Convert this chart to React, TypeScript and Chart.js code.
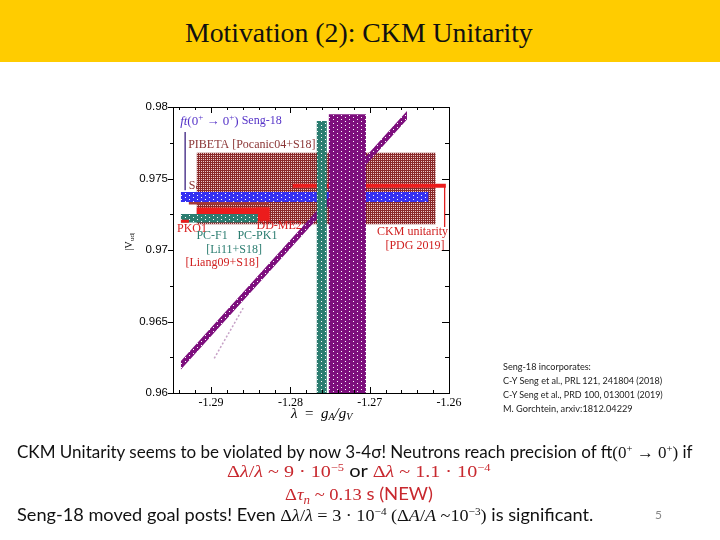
import React, { useEffect, useLayoutEffect, useRef } from "react";
import { Chart, registerables } from "chart.js";
Chart.register(...registerables);

// ---------- axes ----------
const xTickValues = [-1.29, -1.28, -1.27, -1.26];
const yTickValues = [0.96, 0.965, 0.97, 0.975, 0.98];
const lambdaMin = -1.2948;
const lambdaMax = -1.26;
const vudMin = 0.96;
const vudMax = 0.98;

// ---------- horizontal |Vud| bands (bottom to top) ----------
const hBandNames = ["PIBETA [Pocanic04+S18]", "Saito03+S18", "ft(0+→0+) Seng-18", "CKM unitarity [PDG 2019]", "DD-ME2 [Liang09+S18]", "DD-ME2 end", "PC-F1 / PC-PK1 [Li11+S18]", "PKO1 [Liang09+S18]"];
const hBandLambdaFrom = [-1.2918, -1.2928, -1.2938, -1.2797, -1.2918, -1.2843, -1.2938, -1.2938];
const hBandLambdaTo = [-1.2617, -1.2827, -1.2626, -1.2604, -1.2827, -1.2826, -1.2841, -1.2928];
const hBandVudLow = [0.9718, 0.97318, 0.97336, 0.97436, 0.97227, 0.97204, 0.97192, 0.97191];
const hBandVudHigh = [0.9768, 0.97367, 0.97406, 0.97464, 0.97297, 0.97297, 0.97251, 0.97212];

// ---------- vertical lambda bands ----------
const vBandNames = ["lambda A", "lambda B"];
const vBandLambdaFrom = [-1.27667, -1.27515];
const vBandLambdaTo = [-1.27541, -1.27047];
const vBandVudTop = [0.97902, 0.97949];

// ---------- diagonal neutron-lifetime band ----------
const tauLambda = [-1.2938, -1.2653];
const tauVud = [0.96194, 0.97942];
const tauHalfWidth = 0.0003;

// faint dotted trace
const faintLambda = [-1.2896, -1.2859];
const faintVud = [0.96243, 0.96599];

// marker lines
const sengLineLambda = [-1.29327, -1.29327];
const sengLineVud = [0.97825, 0.97417];
const ckmLineLambda = [-1.26055, -1.26055];
const ckmLineVud = [0.9745, 0.9716];

// ---------- in-plot labels ----------
const labelTexts = ["PIBETA [Pocanic04+S18]", "PKO1", "DD-ME2", "PC-F1", "PC-PK1", "[Li11+S18]", "[Liang09+S18]", "CKM unitarity", "[PDG 2019]"];
const labelLambda = [-1.29289, -1.2943, -1.28427, -1.29185, -1.28668, -1.29061, -1.29323, -1.26907, -1.26802];
const labelVud = [0.97732, 0.97145, 0.97171, 0.97098, 0.97098, 0.97003, 0.96909, 0.97126, 0.97026];

const BROWN = "#8a2a2a";
const RED = "#ec1c1c";
const TEAL = "#2b7d70";
const PURPLE = "#7d0f7d";
const BLUE = "#3430f2";
const DARKRED = "#a33838";
const labelColors = ["#8b3535", "#d82020", "#d82020", TEAL, TEAL, TEAL, "#d02020", "#d02020", "#d02020"];

function makePattern(base: string, dot: string, size: number, dots: number[][]) {
  const c = document.createElement("canvas");
  c.width = size;
  c.height = size;
  const g = c.getContext("2d")!;
  g.fillStyle = base;
  g.fillRect(0, 0, size, size);
  g.fillStyle = dot;
  dots.forEach(([x, y]) => g.fillRect(x, y, 1, 1));
  return g.createPattern(c, "repeat")!;
}

const rectPts = (x0: number, x1: number, y0: number, y1: number) => [
  { x: x0, y: y0 }, { x: x1, y: y0 }, { x: x1, y: y1 }, { x: x0, y: y1 }, { x: x0, y: y0 },
];

type Seg = { t: string; font: string; dy?: number };
function drawRich(ctx: CanvasRenderingContext2D, x: number, y: number, segs: Seg[]) {
  let cx = x;
  for (const s of segs) {
    ctx.font = s.font;
    ctx.fillText(s.t, cx, y + (s.dy || 0));
    cx += ctx.measureText(s.t).width;
  }
}

const SERIF = "'Liberation Serif', 'Times New Roman', serif";
const SANS = "'Liberation Sans', Arial, sans-serif";

function ChartCanvas() {
  const ref = useRef<HTMLCanvasElement>(null);
  useEffect(() => {
    const canvas = ref.current!;
    const hatch = makePattern(BROWN, "#ecc9c9", 4, [[1, 1], [3, 3], [1, 3], [3, 1]]);
    const dotFill = (c: string) => makePattern(c, "#ffffff", 8, [[1, 1], [5, 3], [1, 5], [5, 7]]);
    const hFills: any[] = [hatch, DARKRED, dotFill(BLUE), RED, RED, RED, dotFill(TEAL), RED];
    const vFills: any[] = [dotFill(TEAL), dotFill(PURPLE)];

    const datasets: any[] = [];
    const poly = (label: string, data: any[], fill: any) =>
      datasets.push({ label, data, fill: "shape", backgroundColor: fill, borderColor: "transparent", borderWidth: 0, pointRadius: 0 });
    const line = (label: string, data: any[], color: string, width: number, dash: number[] = []) =>
      datasets.push({ label, data, fill: false, borderColor: color, borderWidth: width, borderDash: dash, pointRadius: 0 });

    hBandNames.forEach((n, i) => poly(n, rectPts(hBandLambdaFrom[i], hBandLambdaTo[i], hBandVudLow[i], hBandVudHigh[i]), hFills[i]));
    line("Seng marker", sengLineLambda.map((x, i) => ({ x, y: sengLineVud[i] })), "#3b2080", 1.3);
    line("CKM marker", ckmLineLambda.map((x, i) => ({ x, y: ckmLineVud[i] })), "#e02020", 1.3);
    line("faint", faintLambda.map((x, i) => ({ x, y: faintVud[i] })), "rgba(150,80,150,0.55)", 1.5, [2, 2]);
    poly("neutron lifetime", [
      { x: tauLambda[0], y: tauVud[0] + tauHalfWidth },
      { x: tauLambda[1], y: tauVud[1] + tauHalfWidth },
      { x: tauLambda[1], y: tauVud[1] - tauHalfWidth },
      { x: tauLambda[0], y: tauVud[0] - tauHalfWidth },
      { x: tauLambda[0], y: tauVud[0] + tauHalfWidth },
    ], dotFill(PURPLE));
    vBandNames.forEach((n, i) => poly(n, rectPts(vBandLambdaFrom[i], vBandLambdaTo[i], vudMin, vBandVudTop[i]), vFills[i]));
    const N = datasets.length;
    datasets.forEach((d, i) => (d.order = N - i));

    const underPlugin = {
      id: "under",
      beforeDatasetsDraw(chart: any) {
        const ctx = chart.ctx;
        const xs = chart.scales.x, ys = chart.scales.y;
        ctx.save();
        ctx.fillStyle = "#8b3535";
        ctx.textBaseline = "middle";
        ctx.font = `12px ${SERIF}`;
        ctx.fillText(hBandNames[1], xs.getPixelForValue(-1.2928), ys.getPixelForValue(0.97452));
        ctx.restore();
      },
    };

    const overPlugin = {
      id: "over",
      afterDatasetsDraw(chart: any) {
        const ctx: CanvasRenderingContext2D = chart.ctx;
        const xs = chart.scales.x, ys = chart.scales.y;
        const a = chart.chartArea;
        ctx.save();
        // labels
        ctx.textBaseline = "middle";
        labelTexts.forEach((t, i) => {
          ctx.fillStyle = labelColors[i];
          ctx.font = `12px ${SERIF}`;
          ctx.fillText(t, xs.getPixelForValue(labelLambda[i]), ys.getPixelForValue(labelVud[i]));
        });
        ctx.fillStyle = "#5533c8";
        const fy = ys.getPixelForValue(0.979);
        drawRich(ctx, xs.getPixelForValue(-1.2939), fy, [
          { t: "ft", font: `italic 13px ${SERIF}` },
          { t: "(0", font: `13px ${SERIF}` },
          { t: "+", font: `9px ${SERIF}`, dy: -4 },
          { t: " \u2192 0", font: `13px ${SERIF}` },
          { t: "+", font: `9px ${SERIF}`, dy: -4 },
          { t: ")", font: `13px ${SERIF}` },
          { t: " Seng-18", font: `12px ${SERIF}` },
        ]);
        // frame
        ctx.strokeStyle = "#000";
        ctx.lineWidth = 1;
        ctx.strokeRect(Math.round(a.left) + 0.5, Math.round(a.top) + 0.5, Math.round(a.right - a.left), Math.round(a.bottom - a.top));
        // ticks
        ctx.beginPath();
        for (let k = Math.ceil(lambdaMin / 0.002 - 1e-6); k <= Math.floor(lambdaMax / 0.002 + 1e-6); k++) {
          const v = k * 0.002;
          const major = k % 5 === 0;
          const px = Math.round(xs.getPixelForValue(v)) + 0.5;
          const L = major ? 6 : 3;
          ctx.moveTo(px, a.bottom); ctx.lineTo(px, a.bottom - L);
          ctx.moveTo(px, a.top); ctx.lineTo(px, a.top + L);
        }
        for (let k = Math.round(vudMin / 0.0025); k <= Math.round(vudMax / 0.0025); k++) {
          const v = k * 0.0025;
          const major = k % 2 === 0;
          const py = Math.round(ys.getPixelForValue(v)) + 0.5;
          ctx.moveTo(a.left, py); ctx.lineTo(a.left - (major ? 5 : 3), py);
          ctx.moveTo(a.right, py); ctx.lineTo(a.right - (major ? 7 : 4), py);
        }
        ctx.stroke();
        // axis titles
        ctx.fillStyle = "#000";
        const tx = a.left + 118, ty = a.bottom + 21;
        drawRich(ctx, tx, ty, [
          { t: "\u03bb", font: `italic 15px ${SERIF}` },
          { t: "  =  ", font: `15px ${SERIF}` },
          { t: "g", font: `italic 15px ${SERIF}` },
          { t: "A", font: `italic 10px ${SERIF}`, dy: 3 },
          { t: "/", font: `italic 15px ${SERIF}` },
          { t: "g", font: `italic 15px ${SERIF}` },
          { t: "V", font: `italic 10px ${SERIF}`, dy: 3 },
        ]);
        ctx.save();
        ctx.translate(a.left - 44, ys.getPixelForValue(0.9705));
        ctx.rotate(-Math.PI / 2);
        ctx.textAlign = "center";
        ctx.font = `10px ${SERIF}`;
        ctx.fillText("|V", -3, 0);
        ctx.font = `7px ${SERIF}`;
        ctx.fillText("ud|", 6, 3);
        ctx.restore();
        ctx.restore();
      },
    };

    const chart = new Chart(canvas, {
      type: "line",
      data: { datasets },
      plugins: [underPlugin, overPlugin],
      options: {
        animation: false,
        responsive: false,
        events: [],
        layout: { padding: { left: 0, top: 107, right: 271, bottom: 0 } },
        plugins: { legend: { display: false }, tooltip: { enabled: false } },
        elements: { point: { radius: 0 }, line: { tension: 0 } },
        scales: {
          x: {
            type: "linear",
            min: lambdaMin,
            max: lambdaMax,
            grid: { display: false, drawTicks: false },
            border: { display: false },
            afterFit: (s: any) => { s.height = 147; },
            afterBuildTicks: (s: any) => { s.ticks = xTickValues.map((v) => ({ value: v })); },
            ticks: {
              padding: 3,
              maxRotation: 0,
              autoSkip: false,
              color: "#000",
              font: { family: SERIF, size: 12 },
              callback: (v: any) => Number(v).toFixed(2),
            },
          },
          y: {
            type: "linear",
            min: vudMin,
            max: vudMax,
            grid: { display: false, drawTicks: false },
            border: { display: false },
            afterFit: (s: any) => { s.width = 173; },
            afterBuildTicks: (s: any) => { s.ticks = yTickValues.map((v) => ({ value: v })); },
            ticks: {
              padding: 5,
              autoSkip: false,
              color: "#000",
              font: { family: SANS, size: 11.5 },
              callback: (v: any) => String(parseFloat(Number(v).toFixed(3))),
            },
          },
        },
      } as any,
    });
    return () => chart.destroy();
  }, []);
  return <canvas ref={ref} width={720} height={540} style={{ position: "absolute", left: 0, top: 0, width: 720, height: 540 }} />;
}

function FitLine(props: { x: number; cy: number; w: number; lh: number; style?: any; children: any }) {
  const ref = useRef<HTMLDivElement>(null);
  useLayoutEffect(() => {
    const el = ref.current;
    if (!el) return;
    el.style.transform = "none";
    const actual = el.offsetWidth;
    if (actual > 0) el.style.transform = `scaleX(${props.w / actual})`;
  }, [props.w]);
  return (
    <div
      ref={ref}
      style={{
        position: "absolute",
        left: props.x,
        top: props.cy - props.lh / 2,
        height: props.lh,
        lineHeight: props.lh + "px",
        whiteSpace: "nowrap",
        display: "inline-block",
        transformOrigin: "0 50%",
        ...props.style,
      }}
    >
      {props.children}
    </div>
  );
}

const SUP = (s: any) => <span style={{ fontSize: "0.62em", position: "relative", top: "-0.6em" }}>{s}</span>;
const SUB = (s: any) => <span style={{ fontSize: "0.7em", position: "relative", top: "0.3em" }}>{s}</span>;

export default function App() {
  const body = { fontFamily: "Lato, 'Open Sans', sans-serif", fontSize: 17.5, color: "#111" };
  const math = { fontFamily: SERIF };
  const red = "#c8282e";
  const refStyle = { fontFamily: "Lato, sans-serif", fontSize: 9.5, color: "#222" };
  return (
    <div style={{ position: "absolute", left: 0, top: 0, width: 720, height: 540, overflow: "hidden", background: "#fff" }}>
      <div style={{ position: "absolute", left: 0, top: 0, width: 720, height: 62, background: "#FFCC00" }} />
      <FitLine x={185} cy={33} w={348} lh={34} style={{ fontFamily: SERIF, fontSize: 28, color: "#111" }}>
        Motivation (2): CKM Unitarity
      </FitLine>
      <ChartCanvas />
      <FitLine x={503} cy={367} w={88} lh={12} style={refStyle}>Seng-18 incorporates:</FitLine>
      <FitLine x={503} cy={381} w={159} lh={12} style={refStyle}>C-Y Seng et al., PRL 121, 241804 (2018)</FitLine>
      <FitLine x={503} cy={395} w={160} lh={12} style={refStyle}>C-Y Seng et al., PRD 100, 013001 (2019)</FitLine>
      <FitLine x={503} cy={409} w={130} lh={12} style={refStyle}>M. Gorchtein, arxiv:1812.04229</FitLine>

      <FitLine x={17} cy={452} w={676} lh={22} style={body}>
        <span>CKM Unitarity seems to be violated by now 3-4σ! Neutrons reach precision of ft</span>
        <span style={math}>(0{SUP("+")} → 0{SUP("+")})</span>
        <span> if</span>
      </FitLine>
      <FitLine x={227} cy={471} w={263} lh={22} style={body}>
        <span style={{ ...math, color: red }}>Δ<i>λ</i>/<i>λ</i> ~ 9 · 10{SUP("−5")}</span>
        <span> or </span>
        <span style={{ ...math, color: red }}>Δ<i>λ</i> ~ 1.1 · 10{SUP("−4")}</span>
      </FitLine>
      <FitLine x={285} cy={494} w={148} lh={22} style={body}>
        <span style={{ ...math, color: red }}>Δ<i>τ</i>{SUB(<i>n</i>)} ~ 0.13</span>
        <span style={{ color: red }}> s (NEW)</span>
      </FitLine>
      <FitLine x={17} cy={515} w={576} lh={22} style={body}>
        <span>Seng-18 moved goal posts! Even </span>
        <span style={math}>Δ<i>λ</i>/<i>λ</i> = 3 · 10{SUP("−4")} (Δ<i>A</i>/<i>A</i> ~10{SUP("−3")})</span>
        <span> is significant.</span>
      </FitLine>
      <div style={{ position: "absolute", left: 655, top: 507, fontFamily: "Lato, sans-serif", fontSize: 12, color: "#888" }}>5</div>
    </div>
  );
}
